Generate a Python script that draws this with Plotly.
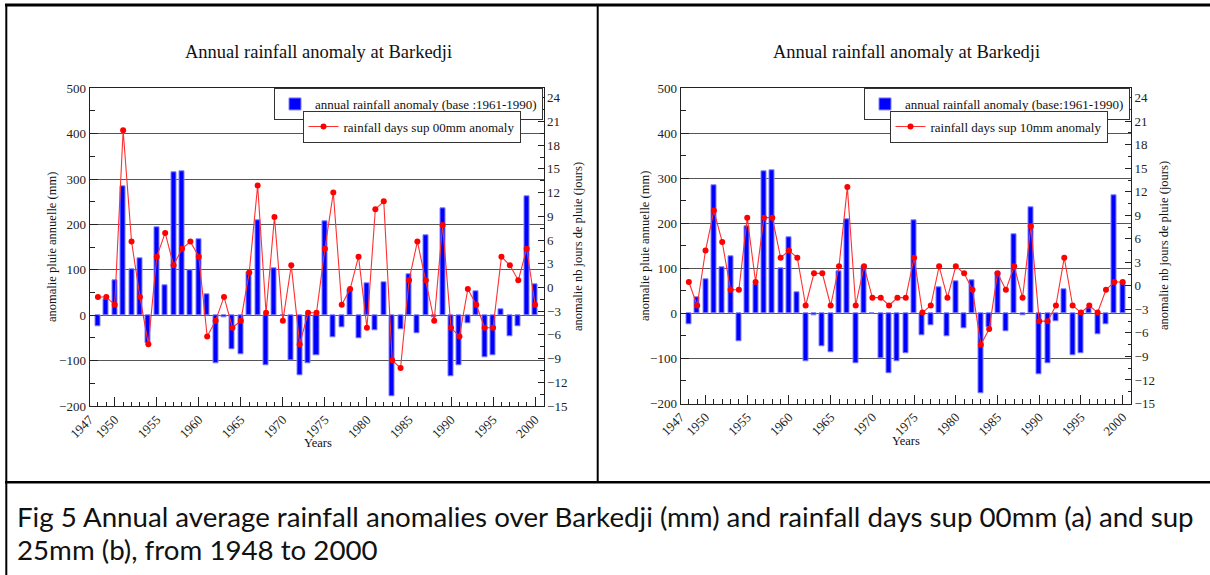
import plotly.graph_objects as go

years = list(range(1948, 2001))
rain_anom = [-24, 36, 76, 284, 102, 126, -62, 194, 65, 316,
             318, 100, 168, 46, -106, -4, -74, -86, 94, 209,
             -110, 104, 0, -100, -132, -106, -88, 207, -49, -27,
             57, -51, 71, -34, 73, -178, -31, 91, -40, 176,
             -4, 235, -135, -110, -18, 53, -93, -89, 12, -47,
             -24, 262, 69]
days00 = [-1.2, -1.2, -2.2, 19.9, 5.8, -1.2, -7.2, 3.9, 6.9, 2.8,
          4.9, 5.8, 3.9, -6.2, -4.2, -1.2, -5.1, -4.2, 1.9, 12.9,
          -3.2, 8.9, -4.2, 2.8, -7.2, -3.2, -3.2, 4.9, 12.0, -2.2,
          -0.2, 3.9, -5.1, 9.9, 10.9, -9.2, -10.2, 0.9, 5.8, 0.9,
          -4.2, 7.9, -5.1, -6.2, -0.2, -2.2, -5.1, -5.1, 3.9, 2.8,
          0.9, 4.9, -2.2]
days10 = [0.5, -2.5, 4.5, 9.6, 5.6, -0.5, -0.5, 8.7, 0.5, 8.7,
          8.7, 3.6, 4.5, 3.6, -2.5, 1.6, 1.6, -2.5, 2.5, 12.6,
          -2.5, 2.5, -1.5, -1.5, -2.5, -1.5, -1.5, 3.6, -3.4, -2.5,
          2.5, -1.5, 2.5, 1.6, -0.5, -7.5, -5.5, 1.6, -0.5, 2.5,
          -1.5, 7.6, -4.5, -4.5, -2.5, 3.6, -2.5, -3.4, -2.5, -3.4,
          -0.5, 0.5, 0.5]
x_tickvals = [1947, 1950, 1955, 1960, 1965, 1970, 1975, 1980, 1985, 1990, 1995, 2000]
chart_title = "Annual rainfall anomaly at Barkedji"
ylabel_left = "anomalie pluie annuelle (mm)"
ylabel_right = "anomalie nb jours de pluie (jours)"
xlabel = "Years"
bar_names = ["annual rainfall anomaly (base :1961-1990)", "annual rainfall anomaly (base:1961-1990)"]
line_names = ["rainfall days sup 00mm anomaly", "rainfall days sup 10mm anomaly"]
caption = ["Fig 5 Annual average rainfall anomalies over Barkedji (mm) and rainfall days sup 00mm (a) and sup",
           "25mm (b), from 1948 to 2000"]

W, H = 1210, 575
SERIF = "Liberation Serif, Times New Roman, serif"


def px(x):
    return x / W


def py(y):
    return 1 - y / H


fig = go.Figure()

panels = [
    dict(x0=89.5, x1=543.5, ytop=88.3, ybot=406.0, days=days00, xa="x", ya="y", ya2="y2",
         leg1="legend", leg2="legend2", bname=bar_names[0], lname=line_names[0]),
    dict(x0=680.5, x1=1131.0, ytop=88.3, ybot=403.5, days=days10, xa="x2", ya="y3", ya2="y4",
         leg1="legend3", leg2="legend4", bname=bar_names[1], lname=line_names[1]),
]

for p in panels:
    fig.add_trace(go.Bar(x=years, y=rain_anom, xaxis=p["xa"], yaxis=p["ya"], width=0.6,
                         marker=dict(color="#0000ff", line=dict(color="#8080ff", width=1)),
                         name=p["bname"], legend=p["leg1"]))
    fig.add_trace(go.Scatter(x=years, y=p["days"], xaxis=p["xa"], yaxis=p["ya2"], mode="lines+markers",
                             line=dict(color="#ff3030", width=1.1),
                             marker=dict(color="#ff0000", size=6),
                             name=p["lname"], legend=p["leg2"]))

tickfont = dict(family=SERIF, size=13, color="#222")


def xaxis_cfg(p, anchor):
    return dict(domain=[px(p["x0"]), px(p["x1"])], anchor=anchor, range=[1947, 2001],
                tickmode="array", tickvals=x_tickvals, tickangle=-45, tickfont=tickfont,
                ticks="inside", ticklen=9, tickcolor="#222",
                minor=dict(tickmode="linear", tick0=1947, dtick=1, ticks="inside", ticklen=4.5, tickcolor="#222"),
                showline=True, linecolor="#222", linewidth=1, mirror=True, automargin=False,
                showgrid=False, zeroline=False, fixedrange=True)


def yaxis_cfg(p, anchor):
    return dict(domain=[py(p["ybot"]), py(p["ytop"])], anchor=anchor, range=[-200, 500],
                tickmode="linear", tick0=-200, dtick=100, tickfont=tickfont,
                ticks="inside", ticklen=8, tickcolor="#222",
                minor=dict(tickmode="linear", tick0=-200, dtick=50, ticks="inside", ticklen=5, tickcolor="#222"),
                showline=True, linecolor="#222", linewidth=1, automargin=False,
                showgrid=True, gridcolor="#555", gridwidth=1, zeroline=False, fixedrange=True)


def y2_cfg(overlay, anchor):
    return dict(overlaying=overlay, side="right", anchor=anchor, range=[-15, 25.2],
                tickmode="linear", tick0=-15, dtick=3, tickfont=tickfont,
                ticks="inside", ticklen=6, tickcolor="#222",
                minor=dict(tickmode="linear", tick0=-15, dtick=1.5, ticks="inside", ticklen=3.5, tickcolor="#222"),
                showline=True, linecolor="#222", linewidth=1, automargin=False,
                showgrid=False, zeroline=False, fixedrange=True)


legfont = dict(family=SERIF, size=13, color="#111")


def leg(xr, ytop):
    return dict(x=px(xr), xanchor="right", y=py(ytop), yanchor="top", bgcolor="white",
                bordercolor="#333", borderwidth=1, font=legfont, itemwidth=30,
                tracegroupgap=0)


fig.update_layout(
    width=W, height=H, autosize=False,
    margin=dict(l=0, r=0, t=0, b=0, pad=0, autoexpand=False),
    paper_bgcolor="white", plot_bgcolor="white",
    bargap=0, showlegend=True,
    xaxis=xaxis_cfg(panels[0], "y"),
    yaxis=yaxis_cfg(panels[0], "x"),
    yaxis2=y2_cfg("y", "x"),
    xaxis2=xaxis_cfg(panels[1], "y3"),
    yaxis3=yaxis_cfg(panels[1], "x2"),
    yaxis4=y2_cfg("y3", "x2"),
    legend=leg(543, 88),
    legend2=leg(520.5, 110.5),
    legend3=leg(1130, 88),
    legend4=leg(1107.5, 110.5),
)

ann = []
afont = dict(family=SERIF, size=12.5, color="#111")
for cx, y1x, y2x, yc, yr in [(318, 52, 578, 247, 443), (906, 645, 1164, 246, 441)]:
    ann.append(dict(text=chart_title, x=px(cx), y=py(52), xref="paper", yref="paper",
                    xanchor="center", yanchor="middle", showarrow=False,
                    font=dict(family=SERIF, size=18.5, color="#111")))
    ann.append(dict(text=ylabel_left, x=px(y1x), y=py(yc), xref="paper", yref="paper",
                    xanchor="center", yanchor="middle", showarrow=False, textangle=-90, font=afont))
    ann.append(dict(text=ylabel_right, x=px(y2x), y=py(yc), xref="paper", yref="paper",
                    xanchor="center", yanchor="middle", showarrow=False, textangle=-90, font=afont))
    ann.append(dict(text=xlabel, x=px(cx), y=py(yr), xref="paper", yref="paper",
                    xanchor="center", yanchor="middle", showarrow=False, font=afont))

capfont = dict(family="Lato, Noto Sans, sans-serif", size=27.7, color="#111")
for line, yy in zip(caption, [516, 549]):
    ann.append(dict(text=line, x=px(15), y=py(yy), xref="paper", yref="paper",
                    xanchor="left", yanchor="middle", showarrow=False, font=capfont))
fig.update_layout(annotations=ann)

shapes = [
    dict(type="line", xref="paper", yref="paper", x0=px(5), x1=1, y0=py(5), y1=py(5),
         line=dict(color="black", width=3)),
    dict(type="line", xref="paper", yref="paper", x0=px(6.3), x1=px(6.3), y0=py(4), y1=0,
         line=dict(color="black", width=2)),
    dict(type="line", xref="paper", yref="paper", x0=px(597.7), x1=px(597.7), y0=py(5), y1=py(482.3),
         line=dict(color="black", width=2)),
    dict(type="line", xref="paper", yref="paper", x0=px(5), x1=1, y0=py(482.3), y1=py(482.3),
         line=dict(color="black", width=2.5)),
]
fig.update_layout(shapes=shapes)

fig.write_html("out.html")
